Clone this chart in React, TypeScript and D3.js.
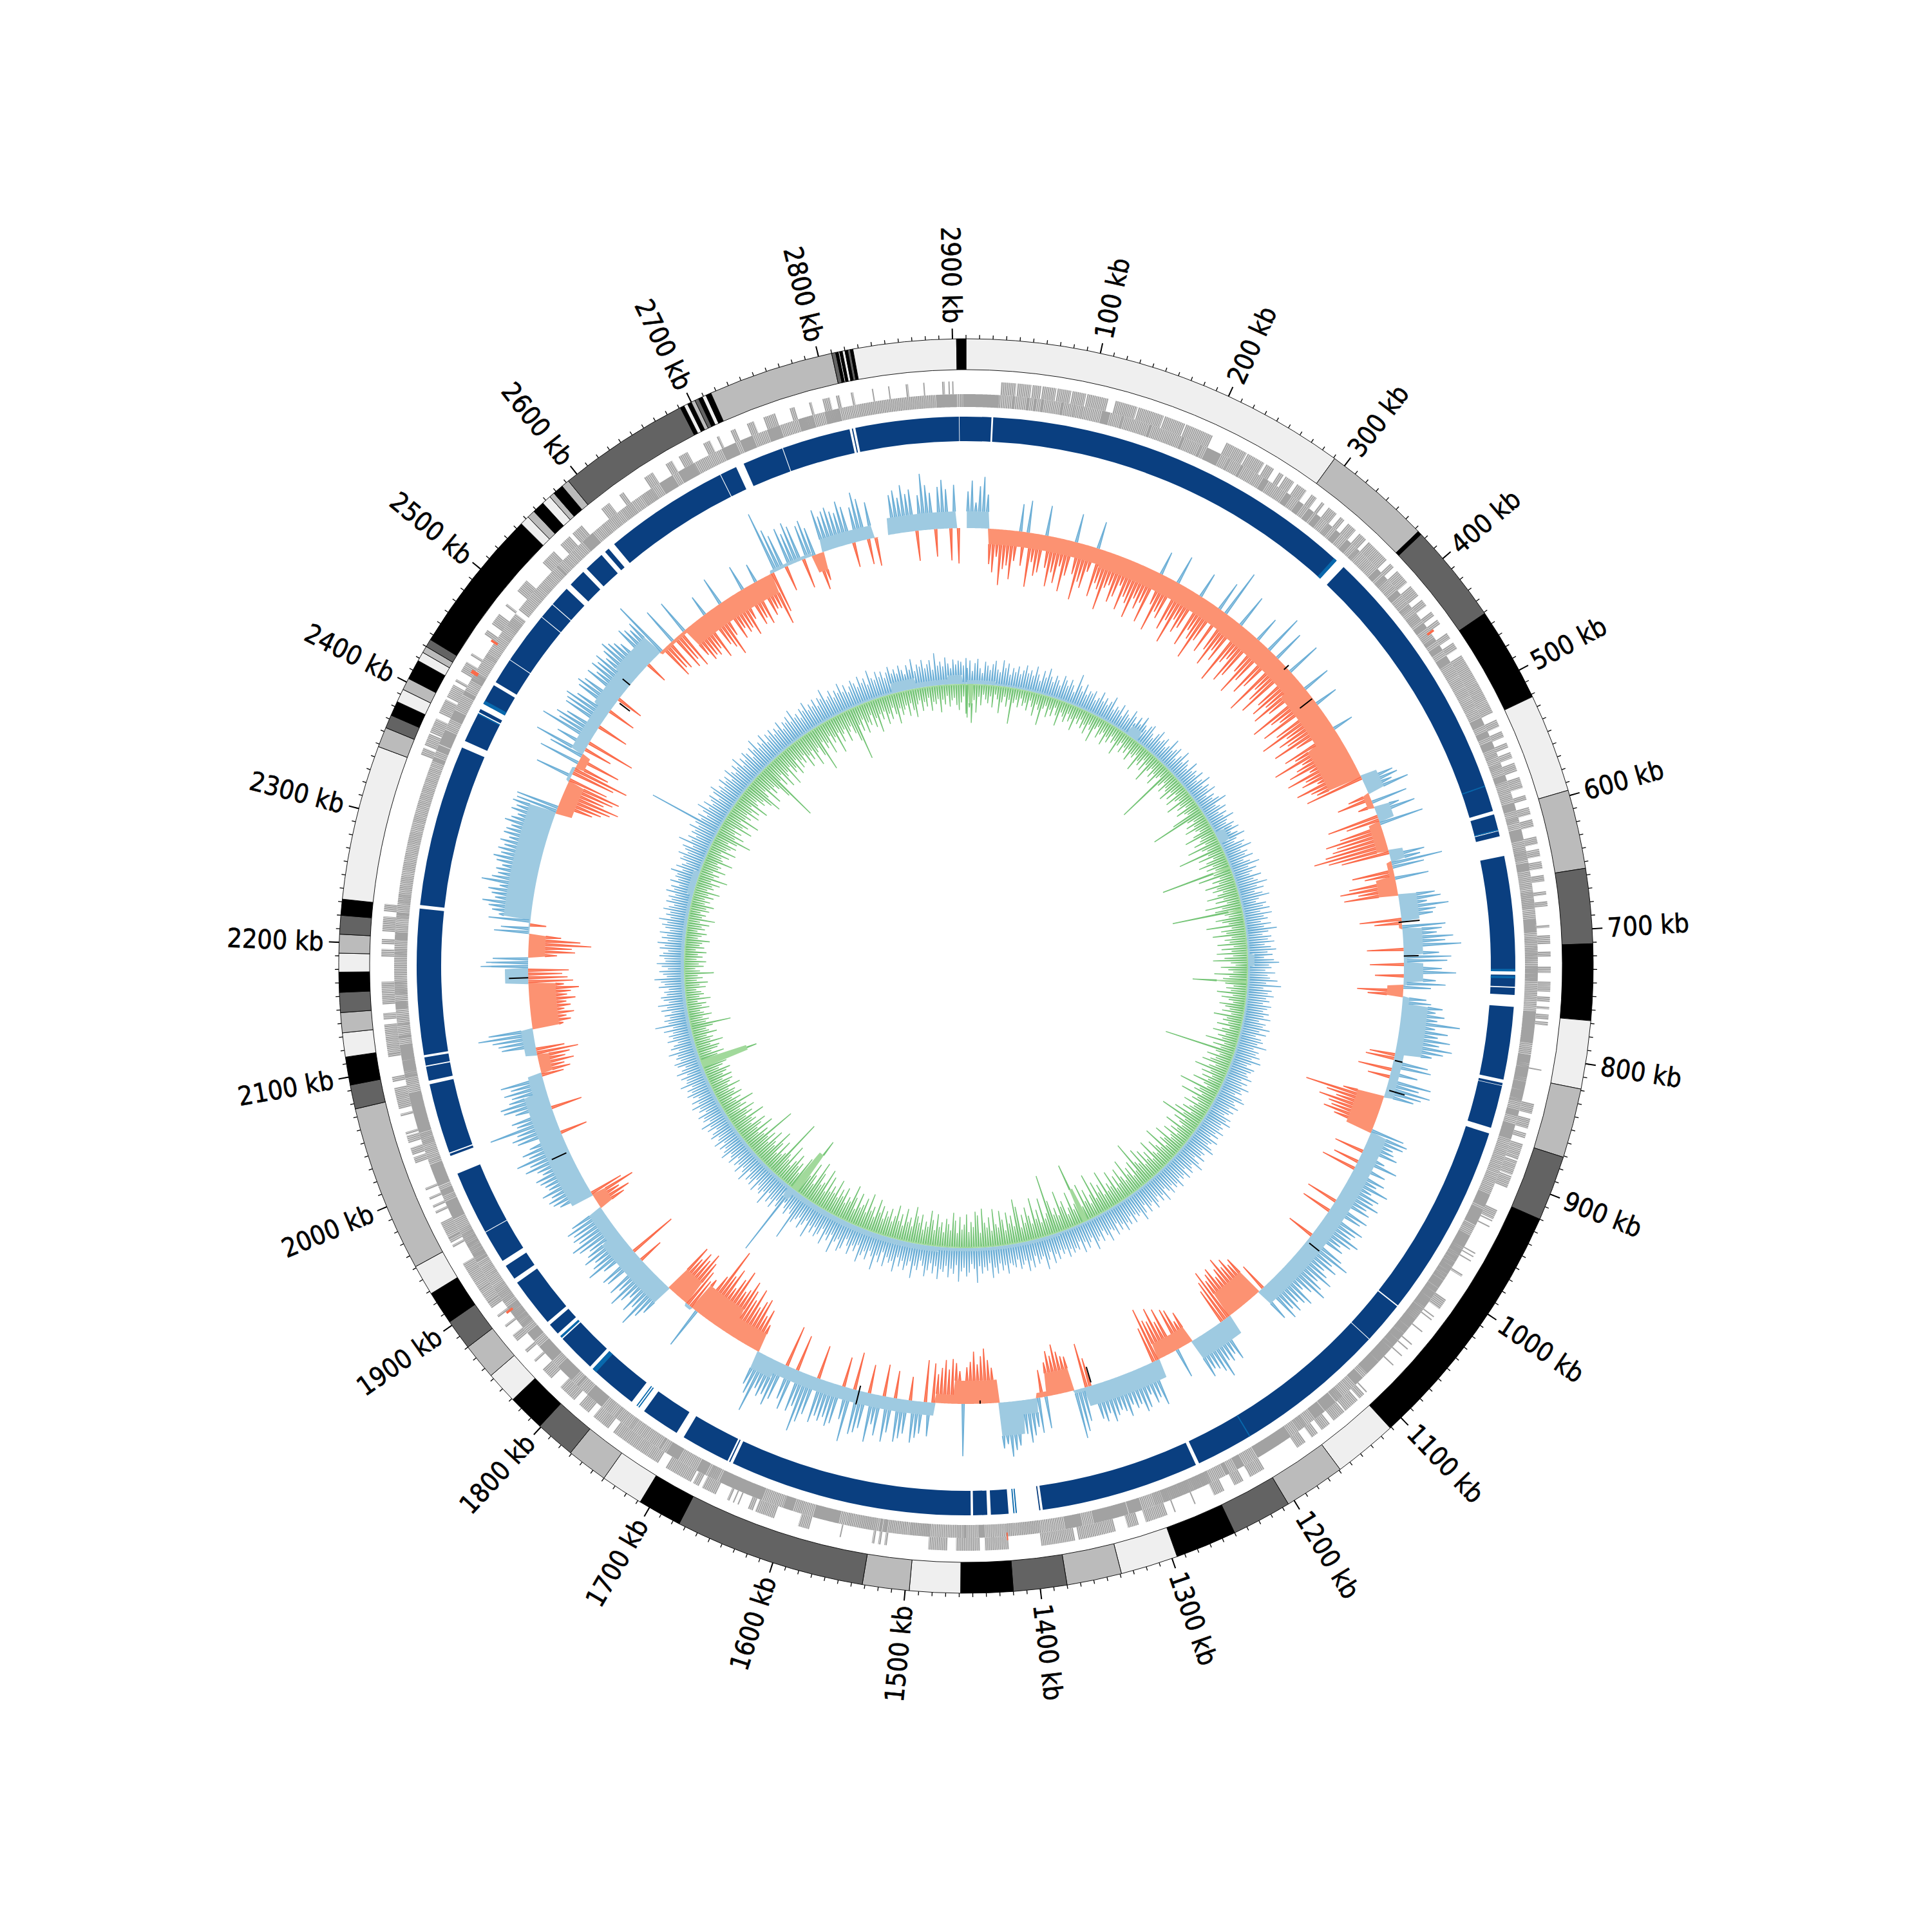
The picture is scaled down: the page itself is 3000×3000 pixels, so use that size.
import React from "react";
import * as d3 from "d3";

const genomeKb = 2910;
const binKb = 4;

// outer band: [start kb, shade]
const bandStops: [number, string][] = [
[0,"E"],[291,"B"],[373,"K"],[376,"D"],[451,"K"],[522,"E"],[596,"B"],[655,"D"],[711,"K"],[768,"E"],[819,"B"],[871,"D"],[920,"K"],[1111,"E"],[1159,"B"],[1205,"D"],[1250,"K"],[1296,"E"],[1339,"B"],[1380,"D"],[1420,"K"],[1459,"E"],[1497,"B"],[1532,"D"],[1675,"K"],[1708,"E"],[1740,"B"],[1771,"D"],[1801,"K"],[1829,"E"],[1853,"B"],[1880,"D"],[1903,"K"],[1928,"E"],[1951,"B"],[2076,"D"],[2094,"K"],[2115,"E"],[2133,"B"],[2148,"D"],[2163,"K"],[2178,"E"],[2192,"B"],[2206,"D"],[2220,"K"],[2232,"E"],[2348,"B"],[2363,"D"],[2373,"K"],[2384,"E"],[2394,"B"],[2403,"K"],[2418,"E"],[2425,"B"],[2430,"D"],[2436,"K"],[2545,"E"],[2552,"B"],[2558,"K"],[2567,"E"],[2574,"B"],[2578,"K"],[2586,"B"],[2592,"D"],[2691,"K"],[2694,"E"],[2697,"K"],[2700,"B"],[2703,"D"],[2706,"K"],[2709,"E"],[2712,"K"],[2716,"B"],[2810,"D"],[2813,"K"],[2815,"E"],[2816,"K"],[2818,"E"],[2820,"K"],[2822,"D"],[2824,"K"],[2826,"E"],[2903,"K"],[2910,"E"]
];
const shades: Record<string,string> = {E:"#efefef",B:"#bbbbbb",D:"#636363",K:"#000000"};

// dark blue contig ring, flat start,end pairs
const contigs = [0,21.5,23,343,351,595,598,612,612.6,617,634,732,735,745,746,752,762,824,827,829,829.5,866,871,1036,1037,1073,1073.6,1252,1255,1390,1392,1393,1419,1434,1437,1449,1451,1658,1660.5,1661.5,1663,1705,1712,1745,1758,1801,1804,1837,1843,1853,1856,1898,1902,1915,1920,1948,1948.6,2003,2019,2021,2022,2082,2085,2097,2098,2105,2107,2231,2234,2372,2378,2404,2405,2408,2413,2431,2434,2456,2456.6,2501,2501.6,2515,2515.6,2533,2538,2553,2557,2574,2578,2582,2588,2695,2695.6,2710,2717,2752,2752.6,2811,2813,2814,2816,2904,2904.5,2910];
const contigLight = [340,343,572.5,573.5,611,612,730,732,736,738,1203,1204,1412,1413,1414,1415,1750,1751,1752,1753,1797,1801,1838,1840,2403,2404,2413,2416];

const geneOuter = [28,40,41,52,53,60,61,72,73,84,85,96,97,114,120,138,139,160,161,178,179,202,214,232,233,248,250,257,262,266,268,276,279,288,293,298,303,306,310,318,322,326,330,338,342,349,352,372,376,380,384,396,400,410,414,420,426,430,434,438,447,452,456,462,468,520,526,532,536,541,546,550,554,559,563,570,575,584,590,594,600,606,610,616,624,630,634,640,644,650,655,660,668,671,676,680,695,697,703,710,716,720,728,733,740,748,752,756,760,762,766,770,772,775,810,811,838,846,850,858,862,866,871,884,885,897,898,908,927,935,936,937,941,942,965,966,968,969,972,973,985,987,1009,1018,1025,1026,1028,1029,1040,1041,1053,1054,1058,1059,1065,1066,1075,1076,1105,1106,1108,1113,1115,1128,1129,1140,1144,1152,1156,1162,1168,1176,1207,1220,1226,1234,1243,1252,1268,1269,1285,1286,1292,1310,1316,1325,1335,1365,1368,1395,1421,1440,1444,1463,1470,1485,1518,1520,1523,1525,1528,1530,1555,1556,1581,1590,1610,1626,1628,1632,1640,1641,1644,1645,1648,1650,1660,1672,1675,1680,1682,1705,1712,1755,1760,1775,1780,1790,1795,1810,1820,1830,1838,1840,1848,1851,1860,1866,1874,1876,1884,1886,1893,1898,1898,1910,1910,1935,1950,1952,1954,1958,1958,1972,1980,1982,1985,1987,1992,1994,2000,2002,2023,2028,2030,2036,2040,2046,2047,2049,2062,2064,2068,2085,2090,2094,2110,2112,2112,2136,2140,2145,2152,2170,2190,2196,2200,2204,2210,2222,2226,2232,2354,2360,2362,2372,2373,2385,2390,2402,2404,2415,2418,2420,2427,2436,2442,2444,2462,2466,2472,2482,2490,2492,2505,2516,2535,2548,2555,2565,2568,2578,2598,2606,2616,2620,2640,2648,2660,2666,2672,2680,2694,2700,2706,2708,2718,2722,2732,2738,2746,2756,2768,2772,2784,2786,2795,2801,2806,2809,2818,2820,2835,2836,2848,2849,2862,2864,2876,2877,2891,2893,2896,2897,2899,2900];
const geneInner = [0,27,38,39,45,46,50,51,56,57,62,63,70,71,78,80,88,89,95,96,112,118,128,129,152,153,166,167,180,181,196,197,202,214,222,223,233,234,246,247,254,258,262,265,268,270,276,280,288,292,298,302,306,310,318,322,326,330,338,342,349,352,372,376,380,384,396,400,410,414,420,426,430,434,438,440,444,447,452,456,462,468,520,526,532,536,541,546,550,554,559,563,570,575,584,590,594,600,606,610,616,624,630,640,644,650,655,664,668,680,690,700,705,725,728,740,745,760,765,790,800,838,846,850,858,870,909,918,919,929,932,945,946,955,956,1020,1021,1095,1100,1108,1122,1128,1130,1140,1142,1150,1160,1166,1172,1176,1176,1207,1220,1226,1233,1236,1237,1244,1250,1290,1290,1298,1310,1320,1322,1350,1360,1374,1395,1422,1440,1444,1455,1457,1460,1463,1485,1500,1503,1518,1520,1522,1524,1526,1528,1552,1560,1580,1590,1598,1598,1606,1625,1650,1650,1662,1664,1672,1675,1682,1700,1710,1711,1712,1716,1717,1745,1747,1760,1762,1775,1790,1800,1802,1808,1822,1830,1845,1852,1860,1866,1886,1890,1905,1930,1955,1955,1960,1970,1985,1986,1989,1991,1995,2000,2018,2020,2022,2036,2044,2046,2054,2052,2072,2072,2078,2092,2106,2106,2118,2124,2126,2134,2135,2148,2154,2160,2170,2172,2180,2190,2196,2204,2210,2222,2226,2234,2240,2353,2356,2362,2366,2368,2380,2390,2397,2404,2410,2412,2415,2425,2432,2447,2450,2456,2456,2478,2486,2494,2490,2505,2505,2540,2542,2562,2562,2570,2580,2590,2604,2612,2620,2630,2640,2648,2660,2666,2680,2686,2694,2706,2718,2722,2732,2746,2756,2772,2784,2795,2806,2822,2884,2886,2902,2906,2908,2908.5,2910];
const geneRed = [438,440,2430,2433,1882,1884,1421,1422,2460,2462];

// GC skew ring: one value per 4 kb, 25 per row (one row = 100 kb)
const skew = [
62,78,45,70,84,58,-60,-72,-48,-90,-66,-60,-80,-52,48,-58,55,-88,-50,-70,-64,52,-55,-82,-60,
-75,-48,-85,-60,50,-55,-92,-64,-72,-45,48,-80,-58,-66,-95,-60,-54,-78,-68,-48,-84,-62,-70,-90,-58,
-72,-60,-88,42,-55,-94,-62,-70,50,-82,-65,-98,-58,-76,-66,45,-88,-60,-72,-100,-68,52,-80,79,-70,
-92,-64,-78,58,-105,-70,-60,-95,-82,46,-66,-100,-74,68,-88,-72,55,-108,-64,-80,-98,60,-76,-90,-70,
-95,-72,50,-108,-80,-68,-100,42,-85,-112,-74,-90,-79,-104,-70,38,-96,-82,-118,-76,-88,-102,-72,-110,-84,
-92,-70,-105,-85,-78,-96,55,60,48,72,-40,-60,62,-30,45,68,-85,-58,74,-72,-95,-80,-88,-100,-118,
-98,-80,60,52,84,55,-70,-52,58,-78,-92,-66,-88,62,70,48,80,60,55,-70,-48,72,66,58,82,
70,93,-62,60,78,72,-58,64,85,-50,55,70,48,-76,-60,42,50,68,58,72,62,96,60,80,66,
85,70,90,78,62,-45,-50,60,66,-58,48,-40,72,55,74,62,52,-70,-124,-92,-76,-100,-84,-78,-88,
-70,58,66,62,48,52,60,-52,45,68,-46,55,-60,60,50,72,48,64,58,70,54,62,-55,66,58,
-53,70,62,58,75,66,52,60,-48,68,83,60,72,55,65,78,58,70,82,62,50,74,66,58,70,
60,72,-50,62,-74,-68,-82,-72,-90,-76,-66,-84,-78,-70,-88,-74,-62,70,58,66,61,84,72,64,60,
70,-58,-46,-68,-72,52,-78,-60,-84,-66,-70,-90,-62,74,60,66,50,68,72,58,62,54,70,60,56,
62,70,55,66,60,-50,-74,58,72,81,-60,-62,-70,-82,-66,-74,-58,55,-48,60,50,62,72,58,48,
74,80,89,70,76,-40,-60,-72,-89,-78,-66,-85,-70,-62,85,-56,-68,-74,-58,-72,-60,-50,-66,58,-70,
55,62,70,-42,58,66,72,-48,60,75,-55,68,52,80,-50,62,70,74,-64,88,56,-52,66,72,60,
68,62,74,-58,66,80,96,60,70,-62,72,58,-70,64,76,62,68,58,97,72,60,-50,-72,-60,-84,
-78,-66,-92,-72,-84,-96,-80,-74,-104,-88,-70,-98,-84,-122,-76,70,-62,-55,-68,-80,-92,-78,-86,-72,-88,
60,72,92,66,78,58,70,84,62,74,-45,68,72,-81,60,83,70,62,76,66,58,72,80,64,70,
65,72,60,-50,-62,-48,-75,-58,58,66,70,62,74,60,63,68,72,58,64,80,70,88,66,74,60,
-48,74,80,70,109,66,72,-54,62,78,81,66,60,70,58,72,-40,-52,-44,-60,-48,-56,-70,-50,58,
62,70,90,74,-54,-66,-60,-72,-58,-68,-62,-76,-64,-70,-82,-60,-74,-66,-58,-68,78,70,60,-50,-77,
-72,-100,-84,-55,60,50,-30,70,55,66,72,82,64,70,76,60,88,74,66,70,62,72,78,68,74,
66,74,62,72,70,64,76,68,60,72,66,74,70,72,-60,-72,-84,-95,-70,-82,-90,-68,64,-74,-93,
-60,70,-72,60,86,-50,58,-81,90,66,74,60,-55,70,72,77,62,-50,68,74,66,-48,70,58,72,
66,74,60,70,79,72,66,58,-40,74,68,62,70,95,-60,-50,-55,64,-62,-52,-68,60,-58,-70,-66,
-70,-62,-80,38,-66,-74,-89,-60,50,-72,-58,-68,-64,-78,-55,45,-70,-62,-74,35,-66,-58,-60,-87,-70,
101,72,60,-45,66,55,70,62,-52,58,64,50,-63,-50,72,60,66,70,62,58,74,64,-44,60,81,
70,-45,62,-50,0,0,0,0,66,72,60,78,64,70,-52,60,91,74,62,-48,70,80,66,-55,72,
-60,0,0
];
// solid part of the skew ring: [start kb, signed thickness]
const skewLevels: [number,number][] = [[0,26],[26,-24],[150,-28],[300,-30],[400,-38],[470,-54],[522,26],[541,-10],[555,24],[572,-18],[606,22],[618,-8],[634,-30],[652,28],[681,-5],[688,30],[715,5],[725,30],[746,5],[750,-25],[760,10],[770,40],[821,14],[869,-42],[908,26],[1115,-42],[1156,32],[1205,-26],[1244,30],[1327,5],[1341,-36],[1368,-8],[1381,22],[1397,52],[1420,-36],[1470,-14],[1489,20],[1660,28],[1685,-30],[1720,-45],[1768,5],[1776,-40],[1800,32],[1880,22],[1911,-22],[1929,36],[2050,22],[2070,-18],[2090,18],[2116,-42],[2163,36],[2181,0],[2191,-26],[2215,2],[2234,42],[2349,-26],[2385,5],[2400,-14],[2415,20],[2470,28],[2510,34],[2552,-5],[2587,-32],[2696,5],[2743,-28],[2757,20],[2812,-2],[2815,0],[2830,26],[2902,0]];
// short black marks on the skew ring: kb, low, high
const skewMarks = [[681,-5,28],[717,0,23],[828,2,14],[860,5,30],[1042,5,25],[1320,-30,-5],[1440,-5,0],[1569,-8,22],[1980,5,30],[2170,0,30],[2483,-25,-5],[2505,0,15],[423,-25,-1],[380,-5,5]];

// inner ring, blue outward
const innerBlue = [
30,42,25,38,45,30,22,41,35,28,38,44,30,26,46,34,42,24,36,30,40,28,35,44,32,
38,30,46,34,24,42,32,48,36,28,40,34,26,44,38,30,42,34,24,55,38,30,44,28,36,
34,40,26,32,44,30,38,28,36,46,26,34,30,42,24,38,32,28,44,36,26,40,30,46,34,
28,38,42,30,24,36,44,28,34,40,26,32,48,30,36,42,24,34,46,28,38,32,26,44,30,
36,30,42,26,34,46,28,38,32,44,24,36,30,40,50,28,34,42,26,38,30,46,32,28,40,
34,44,28,38,48,32,26,42,36,50,30,40,34,46,28,38,52,32,44,36,30,48,34,40,54,
36,46,30,42,52,34,28,44,38,48,32,50,36,42,30,46,34,54,40,30,44,38,48,32,42,
50,36,44,30,46,54,38,42,32,48,36,40,52,34,58,30,44,38,48,36,42,32,46,40,34,
44,36,48,30,42,38,50,34,46,30,40,44,36,52,32,42,38,46,34,50,36,30,44,40,34,
38,46,30,42,34,48,36,40,30,44,50,34,38,46,32,42,36,30,44,38,48,34,40,36,46,
34,42,30,46,38,34,44,50,32,40,36,46,30,42,52,34,38,44,30,46,36,40,34,48,38,
42,34,46,38,30,50,36,44,32,40,48,34,38,46,30,42,52,36,40,34,46,32,44,38,50,
36,44,30,48,38,34,52,40,30,46,36,42,54,32,38,46,34,50,30,42,38,44,36,48,34,
40,32,46,36,50,30,42,56,34,38,44,30,48,36,52,34,40,46,30,42,38,34,50,36,44,
32,48,38,54,30,42,36,46,34,60,38,30,44,50,36,42,58,32,46,38,52,34,44,40,56,
36,48,32,44,54,38,30,46,40,60,34,42,50,36,46,32,56,40,44,36,52,30,48,38,62,
42,34,50,38,46,58,32,44,36,52,40,30,48,54,36,42,62,34,46,38,56,32,44,50,36,
48,38,60,34,44,52,36,42,50,80,40,34,46,38,30,120,44,36,52,40,48,34,58,38,46,
42,36,50,32,46,38,44,30,52,40,34,48,36,42,30,46,38,34,50,42,36,44,32,48,38,
34,46,40,30,44,36,50,32,42,38,46,30,40,36,48,34,44,30,38,46,36,42,32,50,38,
36,44,32,48,38,30,42,46,34,40,36,50,32,44,38,30,46,36,42,34,48,32,60,38,44,
34,42,30,46,36,50,32,40,44,34,38,30,46,36,42,52,32,38,44,30,40,48,34,36,44,
38,30,44,36,48,32,42,34,46,30,38,44,36,50,32,40,34,46,38,30,44,36,42,32,48,
36,42,30,46,34,40,38,50,32,44,36,30,42,38,48,34,40,46,30,56,36,44,32,42,38,
50,36,44,118,38,46,32,42,54,36,48,34,40,46,30,44,52,36,42,34,48,38,44,32,50,
40,34,46,38,52,32,44,36,48,42,30,46,38,54,34,42,36,50,32,44,38,46,34,42,36,
48,32,42,38,46,34,52,36,40,30,44,38,50,34,42,36,46,32,44,40,54,34,38,46,32,
42,36,50,34,44,30,38,46,40,32,48,36,42,30,52,38,34,46,36,44,32,40,48,36,42,
34,46,38,30,44,36,52,32,42,38,48,34,40,46,30,56,36,42,34,48,38,30,44,36,42,
40,34,46
];
// inner ring, green inward (magnitudes)
const innerGreen = [
58,42,66,30,50,24,38,20,28,34,22,40,18,26,48,30,20,36,24,62,28,22,34,18,30,
24,36,18,28,42,22,30,54,26,20,38,24,34,18,30,46,22,28,36,20,32,26,44,22,30,
20,34,26,40,22,30,48,24,18,36,28,22,42,26,34,20,30,24,46,28,20,36,24,32,22,
40,26,30,22,48,28,34,20,38,24,52,30,22,36,26,44,28,22,102,34,24,40,28,32,46,
26,38,22,44,30,24,50,28,36,22,42,30,26,56,92,34,24,40,28,46,30,24,38,54,28,
32,44,26,58,36,28,77,30,48,24,38,52,30,42,28,114,34,60,26,40,30,54,36,44,28,
38,56,30,44,26,62,36,48,113,34,28,50,40,30,66,26,44,36,58,28,40,32,52,26,46,
30,54,28,42,60,32,24,48,36,28,58,34,44,90,40,26,38,30,52,26,44,32,24,46,36,
28,40,24,52,30,36,26,44,22,34,48,26,38,30,56,24,42,28,114,34,26,46,30,38,50,
26,36,58,30,44,24,40,28,52,32,24,69,34,42,26,60,30,38,24,48,28,34,44,26,54,
36,72,28,46,34,26,54,30,40,24,48,32,28,56,36,42,26,64,30,38,50,28,34,58,26,
44,32,52,28,60,36,42,78,30,50,26,44,34,62,28,38,54,30,46,26,58,34,42,30,66,
28,48,36,56,30,72,40,26,52,34,64,28,44,100,38,30,60,36,26,50,42,68,30,44,34,
58,98,40,32,66,28,50,36,70,30,44,58,34,48,28,62,74,32,50,38,56,28,46,60,34,
40,64,30,52,36,44,66,28,56,62,38,46,30,58,42,34,54,28,48,60,32,42,50,28,44,
36,56,30,46,60,34,42,28,52,38,48,62,30,44,36,56,28,46,34,58,40,30,50,36,44,
30,50,38,58,28,44,36,62,30,52,40,34,56,28,46,64,36,42,30,54,38,48,32,60,36,
46,34,58,30,66,42,36,54,70,30,44,62,38,99,50,34,60,30,46,38,56,42,30,64,36,
44,99,40,34,56,30,48,66,36,42,58,32,50,38,87,36,46,30,60,34,44,54,30,42,36,
60,30,44,36,52,28,42,34,58,30,40,26,46,34,38,28,50,30,36,42,26,44,30,38,46,
28,36,44,40,95,30,34,46,26,38,42,28,50,30,36,26,44,32,28,40,69,30,36,26,42,
30,24,40,28,36,22,44,26,34,30,22,38,28,42,24,34,26,52,30,22,36,28,40,24,34,
26,40,22,36,28,32,44,24,30,38,22,34,28,40,24,48,26,32,22,36,30,42,26,34,24,
38,28,46,24,34,30,42,26,52,28,36,24,44,30,34,26,50,32,28,40,24,48,30,36,44,
28,42,63,34,48,30,40,26,54,36,44,28,58,32,40,30,50,34,46,28,56,36,30,44,38,
52,65,40,30,58,34,46,36,44,62,103,36,48,30,56,40,34,60,30,44,38,52,28,46,34,
42,30,54,36,46,32,60,40,34,50,76,30,44,36,56,28,42,34,62,30,48,36,30,52,38,
30,44,58,88,34,46,28,52,36,42,26,48,34,58,30,40,28,50,34,44,26,38,54,30,42,
34,28,46,26,38,50,30,24,42,28,36,22,44,30,34,26,48,28,36,22,40,30,26,38,46,
34,24,52
];
const innerBlueLevels: [number,number][] = [[0,6],[50,3],[280,16],[300,3],[500,16],[520,3],[710,10],[730,3],[1300,5],[1500,8],[1758,18],[1770,5],[2300,10],[2340,3],[2790,16],[2830,8],[2880,14],[2905,3]];
const innerGreenLevels: [number,number][] = [[0,2],[5,30],[14,2],[560,28],[564,2],[632,22],[636,2],[752,48],[757,2],[1250,55],[1256,2],[1754,70],[1763,2],[2012,75],[2024,2]];

const majorTicks = d3.range(100, 3000, 100);
const minorTicks = d3.range(0, genomeKb, 10);

const x = d3.scaleLinear().domain([0, genomeKb]).range([0, 2 * Math.PI]);
const skewR = d3.scaleLinear().domain([-130, 130]).range([550, 810]);
const innerR = d3.scaleLinear().domain([-130, 130]).range([308, 568]);
const skewAmp = d3.scalePow().exponent(1.12).domain([0, 125]).range([0, 125]);
const innerAmp = d3.scalePow().exponent(1.12).domain([0, 120]).range([0, 118]);
const arc = d3.arc<any>();
const H = Math.PI / 2;
const pol = (kb: number, r: number) => {
  const a = x(kb) - H;
  return [r * Math.cos(a), r * Math.sin(a)];
};
const levelAt = (lv: [number, number][], kb: number) => {
  let l = 0;
  for (const [s, v] of lv) if (kb >= s) l = v;
  return l;
};
function spikes(vals: number[], level: (kb: number) => number, rs: any, dir: number, amp: any, w: number) {
  const pts: { kb: number; v: number }[] = [];
  const tips: { kb: number; v: number }[][] = [];
  vals.forEach((raw, i) => {
    const p = i * binKb + binKb / 2;
    const L = level(p);
    const v = raw > 0 ? Math.max(amp(raw), L) : L;
    pts.push({ kb: p - w, v: L }, { kb: p, v }, { kb: p + w, v: L });
    if (v > L) tips.push([{ kb: p - w, v: L }, { kb: p, v }, { kb: p + w, v: L }]);
  });
  const rad = (d: { v: number }) => rs(dir * d.v);
  const area = d3.areaRadial<any>().angle((d) => x(d.kb)).innerRadius(rs(0)).outerRadius(rad)(pts) as string;
  const line = d3.lineRadial<any>().angle((d) => x(d.kb)).radius(rad);
  return { area, stroke: tips.map((t) => line(t)).join("") };
}
const pairs = (a: number[]) => {
  const out: [number, number][] = [];
  for (let i = 0; i + 1 < a.length; i += 2) out.push([a[i], a[i + 1]]);
  return out;
};
const arcLine = (a: number[], r: number) => {
  const p = d3.path();
  for (const [s, e] of pairs(a)) {
    p.moveTo(...(pol(s, r) as [number, number]));
    p.arc(0, 0, r, x(s) - H, x(e) - H);
  }
  return p.toString();
};

const skewPos = spikes(skew, (k) => Math.max(0, levelAt(skewLevels, k)), skewR, 1, skewAmp, 1.2);
const skewNeg = spikes(skew.map((v) => -v), (k) => Math.max(0, -levelAt(skewLevels, k)), skewR, -1, skewAmp, 1.2);
const innerPos = spikes(innerBlue, (k) => levelAt(innerBlueLevels, k), innerR, 1, innerAmp, 0.9);
const innerNeg = spikes(innerGreen, (k) => levelAt(innerGreenLevels, k), innerR, -1, innerAmp, 0.9);
const fontFamily = "'DejaVu Sans', sans-serif";

export default function App() {
  return (
    <svg width={3000} height={3000} viewBox="0 0 3000 3000" style={{ position: "absolute", left: 0, top: 0, background: "#fff" }}>
      <g transform="translate(1500,1500)">
        {bandStops.map(([s, c], i) => {
          const e = i + 1 < bandStops.length ? bandStops[i + 1][0] : genomeKb;
          if (e <= s) return null;
          return <path key={i} d={arc({ innerRadius: 926, outerRadius: 974, startAngle: x(s), endAngle: x(e) }) as string} fill={shades[c]} stroke="#000" strokeWidth={0.9} />;
        })}
        {minorTicks.map((t) => {
          const [a, b] = [pol(t, 974), pol(t, 980)];
          return <line key={t} x1={a[0]} y1={a[1]} x2={b[0]} y2={b[1]} stroke="#000" strokeWidth={1.3} />;
        })}
        {majorTicks.map((t) => {
          const [a, b] = [pol(t, 974), pol(t, 990)];
          const deg = (x(t) * 180) / Math.PI;
          const right = deg <= 180;
          const [lx, ly] = pol(t, 998);
          return (
            <g key={t}>
              <line x1={a[0]} y1={a[1]} x2={b[0]} y2={b[1]} stroke="#000" strokeWidth={2} />
              <text transform={`translate(${lx},${ly}) rotate(${right ? deg - 90 : deg + 90})`} textAnchor={right ? "start" : "end"} dominantBaseline="central" fontFamily={fontFamily} fontStretch="condensed" fontSize={41} fill="#000" stroke="#000" strokeWidth={0.6}>{`${t} kb`}</text>
            </g>
          );
        })}
        <path d={arcLine(geneOuter, 898)} fill="none" stroke="#a2a2a2" strokeWidth={20} strokeDasharray="2.2 0.6" />
        <path d={arcLine(geneInner, 878)} fill="none" stroke="#a2a2a2" strokeWidth={20} strokeDasharray="2.2 0.6" />
        <path d={arcLine(geneRed, 888)} fill="none" stroke="#fb6a4a" strokeWidth={12} />
        {pairs(contigs).map(([s, e], i) => (
          <path key={i} d={arc({ innerRadius: 815, outerRadius: 853, startAngle: x(s), endAngle: x(e) }) as string} fill="#0a3f80" />
        ))}
        {pairs(contigLight).map(([s, e], i) => (
          <path key={i} d={arc({ innerRadius: 815, outerRadius: 853, startAngle: x(s), endAngle: x(e) }) as string} fill="#0868ac" />
        ))}
        <path d={skewPos.area} fill="#9ecae1" />
        <path d={skewNeg.area} fill="#fc9272" />
        <path d={skewPos.stroke} fill="none" stroke="#6baed6" strokeWidth={1.6} />
        <path d={skewNeg.stroke} fill="none" stroke="#fb6a4a" strokeWidth={1.6} />
        {skewMarks.map(([k, lo, hi], i) => {
          const [a, b] = [pol(k, skewR(lo)), pol(k, skewR(hi))];
          return <line key={i} x1={a[0]} y1={a[1]} x2={b[0]} y2={b[1]} stroke="#000" strokeWidth={2} />;
        })}
        <path d={innerPos.area} fill="#9ecae1" />
        <path d={innerPos.stroke} fill="none" stroke="#6baed6" strokeWidth={1.4} />
        <path d={innerNeg.area} fill="#a1d99b" />
        <path d={innerNeg.stroke} fill="none" stroke="#74c476" strokeWidth={1.4} />
      </g>
    </svg>
  );
}
